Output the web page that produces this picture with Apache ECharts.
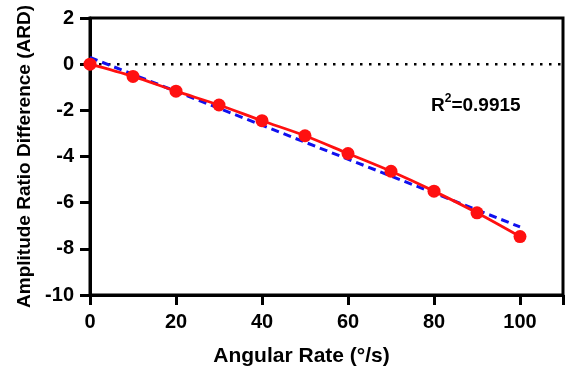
<!DOCTYPE html>
<html><head><meta charset="utf-8">
<script src="https://cdn.jsdelivr.net/npm/echarts@6/dist/echarts.min.js"></script>
<style>html,body{margin:0;padding:0;background:#fff}#c{width:566px;height:372px}</style>
</head><body><div id="c"></div>
<script>
const rates = [0,10,20,30,40,50,60,70,80,90,100];
const ard = [0,-0.53,-1.17,-1.77,-2.45,-3.1,-3.87,-4.64,-5.5,-6.44,-7.47];
const linFit = [[0,0.29],[100,-7.05]];
const zeroLine = [[0,0],[110,0]];
const yTicks = [2,0,-2,-4,-6,-8,-10];
const xTicks = [0,20,40,60,80,100];
const r2Label = '0.9915';

const F = 'Arial';
const chart = echarts.init(document.getElementById('c'));
chart.setOption({
  animation:false,
  grid:{left:90,right:3,top:18,bottom:74,show:true,borderColor:'#000',borderWidth:3},
  xAxis:{type:'value',min:0,max:110,interval:20,
    name:'Angular Rate (°/s)',nameLocation:'middle',nameGap:51,
    nameTextStyle:{fontFamily:F,fontWeight:'bold',fontSize:21,color:'#000',padding:[0,0,0,-50]},
    axisLine:{onZero:false,lineStyle:{color:'#000',width:3}},
    axisTick:{length:10,lineStyle:{width:3,color:'#000'}},
    axisLabel:{fontFamily:F,fontWeight:'bold',fontSize:20,color:'#000',margin:17,
      formatter:v=>xTicks.includes(v)?String(v):''},
    splitLine:{show:false}},
  yAxis:{type:'value',min:-10,max:2,interval:2,
    name:'Amplitude Ratio Difference (ARD)',nameLocation:'middle',nameGap:54,
    nameTextStyle:{fontFamily:F,fontWeight:'bold',fontSize:19,color:'#000'},
    axisLine:{onZero:false,lineStyle:{color:'#000',width:3}},
    axisTick:{length:10,lineStyle:{width:3,color:'#000'}},
    axisLabel:{fontFamily:F,fontWeight:'bold',fontSize:20,color:'#000',margin:16,padding:[4,0,0,0],
      formatter:v=>yTicks.includes(v)?String(v):''},
    splitLine:{show:false}},
  series:[
    {type:'line',data:zeroLine,symbol:'none',silent:true,
      lineStyle:{color:'#000',width:2.5,type:[2.5,6.5]},z:1},
    {type:'line',data:linFit,symbol:'none',
      lineStyle:{color:'#1010ee',width:3,type:[8,5]},z:2},
    {type:'line',data:rates.map((r,i)=>[r,ard[i]]),smooth:0.3,
      symbol:'circle',symbolSize:13,
      itemStyle:{color:'#ff1010'},lineStyle:{color:'#ff1010',width:2.8},z:3}
  ],
  graphic:[{type:'text',left:431,top:93,
    style:{text:'{b|R}{s|2}{b|='+r2Label+'}',
      rich:{b:{fontFamily:F,fontWeight:'bold',fontSize:19,fill:'#000',verticalAlign:'bottom'},
            s:{fontFamily:F,fontWeight:'bold',fontSize:12,fill:'#000',verticalAlign:'top',padding:[0,0,10,0]}}}}]
});
</script></body></html>
